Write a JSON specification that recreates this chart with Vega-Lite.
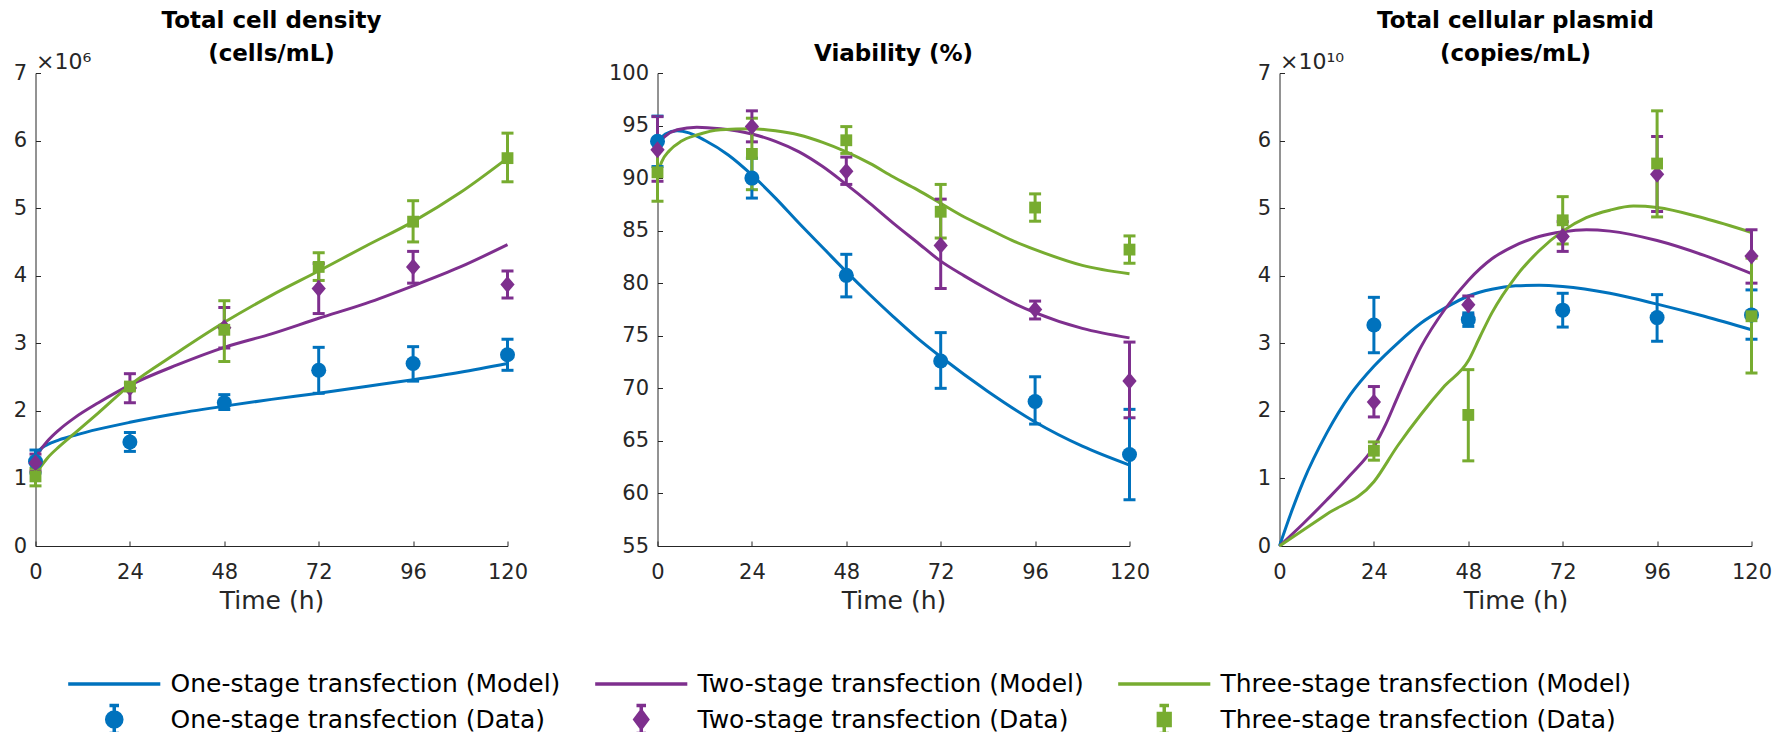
{
  "$schema": "https://vega.github.io/schema/vega-lite/v6.json",
  "autosize": {"type": "pad"},
  "padding": {"left": 12.5, "top": 10, "right": 0, "bottom": 0},
  "background": "white",
  "config": {
    "font": "DejaVu Sans",
    "view": {"stroke": null},
    "axis": {"grid": false, "domainColor": "#262626", "domainWidth": 1, "tickColor": "#262626", "tickWidth": 1, "tickSize": -5, "labelFont": "DejaVu Sans", "labelFontSize": 21, "labelColor": "#262626", "labelFlush": false, "labelOverlap": false, "labelBound": false, "titleFont": "DejaVu Sans", "titleFontSize": 25, "titleFontWeight": "normal", "titleColor": "#262626"},
    "axisX": {"labelPadding": 20, "titlePadding": 6},
    "axisY": {"labelPadding": 14},
    "title": {"font": "DejaVu Sans", "fontSize": 23, "fontWeight": "bold", "color": "#000000", "anchor": "middle", "frame": "group", "lineHeight": 33},
    "legend": {"labelFont": "DejaVu Sans", "labelFontSize": 25, "labelColor": "#000000", "labelOffset": 40.25, "labelLimit": 0, "symbolSize": 784, "symbolStrokeWidth": 3.5, "symbolOpacity": 1, "columnPadding": 26, "rowPadding": 1.5}
  },
  "datasets": {
    "model": [
      {"panel": "cell", "series": "One-stage transfection (Model)", "t": 0, "v": 1.33e6},
      {"panel": "cell", "series": "One-stage transfection (Model)", "t": 1, "v": 1.42e6},
      {"panel": "cell", "series": "One-stage transfection (Model)", "t": 3, "v": 1.50e6},
      {"panel": "cell", "series": "One-stage transfection (Model)", "t": 6, "v": 1.57e6},
      {"panel": "cell", "series": "One-stage transfection (Model)", "t": 10, "v": 1.64e6},
      {"panel": "cell", "series": "One-stage transfection (Model)", "t": 16, "v": 1.73e6},
      {"panel": "cell", "series": "One-stage transfection (Model)", "t": 24, "v": 1.83e6},
      {"panel": "cell", "series": "One-stage transfection (Model)", "t": 36, "v": 1.96e6},
      {"panel": "cell", "series": "One-stage transfection (Model)", "t": 48, "v": 2.07e6},
      {"panel": "cell", "series": "One-stage transfection (Model)", "t": 60, "v": 2.17e6},
      {"panel": "cell", "series": "One-stage transfection (Model)", "t": 72, "v": 2.26e6},
      {"panel": "cell", "series": "One-stage transfection (Model)", "t": 84, "v": 2.36e6},
      {"panel": "cell", "series": "One-stage transfection (Model)", "t": 96, "v": 2.46e6},
      {"panel": "cell", "series": "One-stage transfection (Model)", "t": 108, "v": 2.57e6},
      {"panel": "cell", "series": "One-stage transfection (Model)", "t": 120, "v": 2.70e6},
      {"panel": "cell", "series": "Two-stage transfection (Model)", "t": 0, "v": 1.29e6},
      {"panel": "cell", "series": "Two-stage transfection (Model)", "t": 1, "v": 1.40e6},
      {"panel": "cell", "series": "Two-stage transfection (Model)", "t": 3, "v": 1.55e6},
      {"panel": "cell", "series": "Two-stage transfection (Model)", "t": 6, "v": 1.72e6},
      {"panel": "cell", "series": "Two-stage transfection (Model)", "t": 10, "v": 1.90e6},
      {"panel": "cell", "series": "Two-stage transfection (Model)", "t": 16, "v": 2.12e6},
      {"panel": "cell", "series": "Two-stage transfection (Model)", "t": 24, "v": 2.38e6},
      {"panel": "cell", "series": "Two-stage transfection (Model)", "t": 36, "v": 2.68e6},
      {"panel": "cell", "series": "Two-stage transfection (Model)", "t": 48, "v": 2.94e6},
      {"panel": "cell", "series": "Two-stage transfection (Model)", "t": 60, "v": 3.14e6},
      {"panel": "cell", "series": "Two-stage transfection (Model)", "t": 72, "v": 3.37e6},
      {"panel": "cell", "series": "Two-stage transfection (Model)", "t": 84, "v": 3.59e6},
      {"panel": "cell", "series": "Two-stage transfection (Model)", "t": 96, "v": 3.85e6},
      {"panel": "cell", "series": "Two-stage transfection (Model)", "t": 108, "v": 4.13e6},
      {"panel": "cell", "series": "Two-stage transfection (Model)", "t": 120, "v": 4.46e6},
      {"panel": "cell", "series": "Three-stage transfection (Model)", "t": 0, "v": 1.08e6},
      {"panel": "cell", "series": "Three-stage transfection (Model)", "t": 1, "v": 1.15e6},
      {"panel": "cell", "series": "Three-stage transfection (Model)", "t": 3, "v": 1.30e6},
      {"panel": "cell", "series": "Three-stage transfection (Model)", "t": 6, "v": 1.47e6},
      {"panel": "cell", "series": "Three-stage transfection (Model)", "t": 10, "v": 1.67e6},
      {"panel": "cell", "series": "Three-stage transfection (Model)", "t": 16, "v": 1.97e6},
      {"panel": "cell", "series": "Three-stage transfection (Model)", "t": 24, "v": 2.38e6},
      {"panel": "cell", "series": "Three-stage transfection (Model)", "t": 36, "v": 2.86e6},
      {"panel": "cell", "series": "Three-stage transfection (Model)", "t": 48, "v": 3.31e6},
      {"panel": "cell", "series": "Three-stage transfection (Model)", "t": 60, "v": 3.71e6},
      {"panel": "cell", "series": "Three-stage transfection (Model)", "t": 72, "v": 4.07e6},
      {"panel": "cell", "series": "Three-stage transfection (Model)", "t": 84, "v": 4.44e6},
      {"panel": "cell", "series": "Three-stage transfection (Model)", "t": 96, "v": 4.80e6},
      {"panel": "cell", "series": "Three-stage transfection (Model)", "t": 108, "v": 5.23e6},
      {"panel": "cell", "series": "Three-stage transfection (Model)", "t": 120, "v": 5.74e6},

      {"panel": "via", "series": "One-stage transfection (Model)", "t": 0, "v": 93.4},
      {"panel": "via", "series": "One-stage transfection (Model)", "t": 2, "v": 94.2},
      {"panel": "via", "series": "One-stage transfection (Model)", "t": 5, "v": 94.5},
      {"panel": "via", "series": "One-stage transfection (Model)", "t": 8, "v": 94.3},
      {"panel": "via", "series": "One-stage transfection (Model)", "t": 12, "v": 93.6},
      {"panel": "via", "series": "One-stage transfection (Model)", "t": 18, "v": 92.2},
      {"panel": "via", "series": "One-stage transfection (Model)", "t": 24, "v": 90.3},
      {"panel": "via", "series": "One-stage transfection (Model)", "t": 30, "v": 88.1},
      {"panel": "via", "series": "One-stage transfection (Model)", "t": 36, "v": 85.7},
      {"panel": "via", "series": "One-stage transfection (Model)", "t": 42, "v": 83.4},
      {"panel": "via", "series": "One-stage transfection (Model)", "t": 48, "v": 81.1},
      {"panel": "via", "series": "One-stage transfection (Model)", "t": 54, "v": 78.9},
      {"panel": "via", "series": "One-stage transfection (Model)", "t": 60, "v": 76.8},
      {"panel": "via", "series": "One-stage transfection (Model)", "t": 66, "v": 74.8},
      {"panel": "via", "series": "One-stage transfection (Model)", "t": 72, "v": 73.0},
      {"panel": "via", "series": "One-stage transfection (Model)", "t": 84, "v": 69.7},
      {"panel": "via", "series": "One-stage transfection (Model)", "t": 96, "v": 66.8},
      {"panel": "via", "series": "One-stage transfection (Model)", "t": 108, "v": 64.5},
      {"panel": "via", "series": "One-stage transfection (Model)", "t": 120, "v": 62.7},
      {"panel": "via", "series": "Two-stage transfection (Model)", "t": 0, "v": 93.2},
      {"panel": "via", "series": "Two-stage transfection (Model)", "t": 2, "v": 94.0},
      {"panel": "via", "series": "Two-stage transfection (Model)", "t": 5, "v": 94.6},
      {"panel": "via", "series": "Two-stage transfection (Model)", "t": 10, "v": 94.85},
      {"panel": "via", "series": "Two-stage transfection (Model)", "t": 16, "v": 94.7},
      {"panel": "via", "series": "Two-stage transfection (Model)", "t": 24, "v": 94.2},
      {"panel": "via", "series": "Two-stage transfection (Model)", "t": 30, "v": 93.5},
      {"panel": "via", "series": "Two-stage transfection (Model)", "t": 36, "v": 92.5},
      {"panel": "via", "series": "Two-stage transfection (Model)", "t": 42, "v": 91.1},
      {"panel": "via", "series": "Two-stage transfection (Model)", "t": 48, "v": 89.4},
      {"panel": "via", "series": "Two-stage transfection (Model)", "t": 54, "v": 87.6},
      {"panel": "via", "series": "Two-stage transfection (Model)", "t": 60, "v": 85.7},
      {"panel": "via", "series": "Two-stage transfection (Model)", "t": 66, "v": 83.9},
      {"panel": "via", "series": "Two-stage transfection (Model)", "t": 72, "v": 82.1},
      {"panel": "via", "series": "Two-stage transfection (Model)", "t": 78, "v": 80.7},
      {"panel": "via", "series": "Two-stage transfection (Model)", "t": 84, "v": 79.4},
      {"panel": "via", "series": "Two-stage transfection (Model)", "t": 90, "v": 78.2},
      {"panel": "via", "series": "Two-stage transfection (Model)", "t": 96, "v": 77.2},
      {"panel": "via", "series": "Two-stage transfection (Model)", "t": 108, "v": 75.7},
      {"panel": "via", "series": "Two-stage transfection (Model)", "t": 120, "v": 74.8},
      {"panel": "via", "series": "Three-stage transfection (Model)", "t": 0, "v": 90.3},
      {"panel": "via", "series": "Three-stage transfection (Model)", "t": 1, "v": 91.5},
      {"panel": "via", "series": "Three-stage transfection (Model)", "t": 3, "v": 92.6},
      {"panel": "via", "series": "Three-stage transfection (Model)", "t": 6, "v": 93.5},
      {"panel": "via", "series": "Three-stage transfection (Model)", "t": 10, "v": 94.1},
      {"panel": "via", "series": "Three-stage transfection (Model)", "t": 16, "v": 94.6},
      {"panel": "via", "series": "Three-stage transfection (Model)", "t": 24, "v": 94.7},
      {"panel": "via", "series": "Three-stage transfection (Model)", "t": 30, "v": 94.5},
      {"panel": "via", "series": "Three-stage transfection (Model)", "t": 36, "v": 94.1},
      {"panel": "via", "series": "Three-stage transfection (Model)", "t": 42, "v": 93.4},
      {"panel": "via", "series": "Three-stage transfection (Model)", "t": 48, "v": 92.5},
      {"panel": "via", "series": "Three-stage transfection (Model)", "t": 54, "v": 91.4},
      {"panel": "via", "series": "Three-stage transfection (Model)", "t": 60, "v": 90.1},
      {"panel": "via", "series": "Three-stage transfection (Model)", "t": 66, "v": 88.9},
      {"panel": "via", "series": "Three-stage transfection (Model)", "t": 72, "v": 87.6},
      {"panel": "via", "series": "Three-stage transfection (Model)", "t": 78, "v": 86.3},
      {"panel": "via", "series": "Three-stage transfection (Model)", "t": 84, "v": 85.2},
      {"panel": "via", "series": "Three-stage transfection (Model)", "t": 90, "v": 84.1},
      {"panel": "via", "series": "Three-stage transfection (Model)", "t": 96, "v": 83.2},
      {"panel": "via", "series": "Three-stage transfection (Model)", "t": 108, "v": 81.7},
      {"panel": "via", "series": "Three-stage transfection (Model)", "t": 120, "v": 80.9},

      {"panel": "pla", "series": "One-stage transfection (Model)", "t": 0, "v": 0},
      {"panel": "pla", "series": "One-stage transfection (Model)", "t": 3, "v": 0.50e10},
      {"panel": "pla", "series": "One-stage transfection (Model)", "t": 6, "v": 0.95e10},
      {"panel": "pla", "series": "One-stage transfection (Model)", "t": 12, "v": 1.67e10},
      {"panel": "pla", "series": "One-stage transfection (Model)", "t": 18, "v": 2.24e10},
      {"panel": "pla", "series": "One-stage transfection (Model)", "t": 24, "v": 2.66e10},
      {"panel": "pla", "series": "One-stage transfection (Model)", "t": 30, "v": 3.00e10},
      {"panel": "pla", "series": "One-stage transfection (Model)", "t": 36, "v": 3.30e10},
      {"panel": "pla", "series": "One-stage transfection (Model)", "t": 42, "v": 3.52e10},
      {"panel": "pla", "series": "One-stage transfection (Model)", "t": 48, "v": 3.70e10},
      {"panel": "pla", "series": "One-stage transfection (Model)", "t": 54, "v": 3.80e10},
      {"panel": "pla", "series": "One-stage transfection (Model)", "t": 60, "v": 3.85e10},
      {"panel": "pla", "series": "One-stage transfection (Model)", "t": 66, "v": 3.86e10},
      {"panel": "pla", "series": "One-stage transfection (Model)", "t": 72, "v": 3.84e10},
      {"panel": "pla", "series": "One-stage transfection (Model)", "t": 84, "v": 3.74e10},
      {"panel": "pla", "series": "One-stage transfection (Model)", "t": 96, "v": 3.58e10},
      {"panel": "pla", "series": "One-stage transfection (Model)", "t": 108, "v": 3.40e10},
      {"panel": "pla", "series": "One-stage transfection (Model)", "t": 120, "v": 3.20e10},
      {"panel": "pla", "series": "Two-stage transfection (Model)", "t": 0, "v": 0},
      {"panel": "pla", "series": "Two-stage transfection (Model)", "t": 6, "v": 0.33e10},
      {"panel": "pla", "series": "Two-stage transfection (Model)", "t": 12, "v": 0.68e10},
      {"panel": "pla", "series": "Two-stage transfection (Model)", "t": 18, "v": 1.05e10},
      {"panel": "pla", "series": "Two-stage transfection (Model)", "t": 24, "v": 1.47e10},
      {"panel": "pla", "series": "Two-stage transfection (Model)", "t": 27, "v": 1.80e10},
      {"panel": "pla", "series": "Two-stage transfection (Model)", "t": 30, "v": 2.20e10},
      {"panel": "pla", "series": "Two-stage transfection (Model)", "t": 36, "v": 2.95e10},
      {"panel": "pla", "series": "Two-stage transfection (Model)", "t": 42, "v": 3.50e10},
      {"panel": "pla", "series": "Two-stage transfection (Model)", "t": 48, "v": 3.93e10},
      {"panel": "pla", "series": "Two-stage transfection (Model)", "t": 54, "v": 4.25e10},
      {"panel": "pla", "series": "Two-stage transfection (Model)", "t": 60, "v": 4.45e10},
      {"panel": "pla", "series": "Two-stage transfection (Model)", "t": 66, "v": 4.58e10},
      {"panel": "pla", "series": "Two-stage transfection (Model)", "t": 72, "v": 4.65e10},
      {"panel": "pla", "series": "Two-stage transfection (Model)", "t": 78, "v": 4.68e10},
      {"panel": "pla", "series": "Two-stage transfection (Model)", "t": 84, "v": 4.66e10},
      {"panel": "pla", "series": "Two-stage transfection (Model)", "t": 96, "v": 4.52e10},
      {"panel": "pla", "series": "Two-stage transfection (Model)", "t": 108, "v": 4.30e10},
      {"panel": "pla", "series": "Two-stage transfection (Model)", "t": 120, "v": 4.03e10},
      {"panel": "pla", "series": "Three-stage transfection (Model)", "t": 0, "v": 0},
      {"panel": "pla", "series": "Three-stage transfection (Model)", "t": 12, "v": 0.47e10},
      {"panel": "pla", "series": "Three-stage transfection (Model)", "t": 24, "v": 0.95e10},
      {"panel": "pla", "series": "Three-stage transfection (Model)", "t": 30, "v": 1.48e10},
      {"panel": "pla", "series": "Three-stage transfection (Model)", "t": 36, "v": 1.95e10},
      {"panel": "pla", "series": "Three-stage transfection (Model)", "t": 42, "v": 2.37e10},
      {"panel": "pla", "series": "Three-stage transfection (Model)", "t": 48, "v": 2.74e10},
      {"panel": "pla", "series": "Three-stage transfection (Model)", "t": 51, "v": 3.10e10},
      {"panel": "pla", "series": "Three-stage transfection (Model)", "t": 54, "v": 3.45e10},
      {"panel": "pla", "series": "Three-stage transfection (Model)", "t": 60, "v": 3.98e10},
      {"panel": "pla", "series": "Three-stage transfection (Model)", "t": 66, "v": 4.37e10},
      {"panel": "pla", "series": "Three-stage transfection (Model)", "t": 72, "v": 4.66e10},
      {"panel": "pla", "series": "Three-stage transfection (Model)", "t": 78, "v": 4.86e10},
      {"panel": "pla", "series": "Three-stage transfection (Model)", "t": 84, "v": 4.97e10},
      {"panel": "pla", "series": "Three-stage transfection (Model)", "t": 90, "v": 5.03e10},
      {"panel": "pla", "series": "Three-stage transfection (Model)", "t": 96, "v": 5.01e10},
      {"panel": "pla", "series": "Three-stage transfection (Model)", "t": 108, "v": 4.85e10},
      {"panel": "pla", "series": "Three-stage transfection (Model)", "t": 120, "v": 4.64e10}
    ],
    "obs": [
      {"panel": "cell", "series": "One-stage transfection (Data)", "t": 0, "v": 1.25e6, "lo": 1.08e6, "hi": 1.42e6},
      {"panel": "cell", "series": "One-stage transfection (Data)", "t": 24, "v": 1.54e6, "lo": 1.40e6, "hi": 1.68e6},
      {"panel": "cell", "series": "One-stage transfection (Data)", "t": 48, "v": 2.12e6, "lo": 2.02e6, "hi": 2.24e6},
      {"panel": "cell", "series": "One-stage transfection (Data)", "t": 72, "v": 2.60e6, "lo": 2.26e6, "hi": 2.94e6},
      {"panel": "cell", "series": "One-stage transfection (Data)", "t": 96, "v": 2.70e6, "lo": 2.44e6, "hi": 2.95e6},
      {"panel": "cell", "series": "One-stage transfection (Data)", "t": 120, "v": 2.83e6, "lo": 2.60e6, "hi": 3.06e6},
      {"panel": "cell", "series": "Two-stage transfection (Data)", "t": 0, "v": 1.23e6, "lo": 1.11e6, "hi": 1.36e6},
      {"panel": "cell", "series": "Two-stage transfection (Data)", "t": 24, "v": 2.34e6, "lo": 2.12e6, "hi": 2.55e6},
      {"panel": "cell", "series": "Two-stage transfection (Data)", "t": 48, "v": 3.23e6, "lo": 2.93e6, "hi": 3.53e6},
      {"panel": "cell", "series": "Two-stage transfection (Data)", "t": 72, "v": 3.81e6, "lo": 3.44e6, "hi": 4.18e6},
      {"panel": "cell", "series": "Two-stage transfection (Data)", "t": 96, "v": 4.13e6, "lo": 3.89e6, "hi": 4.36e6},
      {"panel": "cell", "series": "Two-stage transfection (Data)", "t": 120, "v": 3.87e6, "lo": 3.67e6, "hi": 4.07e6},
      {"panel": "cell", "series": "Three-stage transfection (Data)", "t": 0, "v": 1.03e6, "lo": 0.89e6, "hi": 1.15e6},
      {"panel": "cell", "series": "Three-stage transfection (Data)", "t": 24, "v": 2.36e6, "lo": 2.31e6, "hi": 2.41e6},
      {"panel": "cell", "series": "Three-stage transfection (Data)", "t": 48, "v": 3.20e6, "lo": 2.73e6, "hi": 3.63e6},
      {"panel": "cell", "series": "Three-stage transfection (Data)", "t": 72, "v": 4.13e6, "lo": 3.93e6, "hi": 4.34e6},
      {"panel": "cell", "series": "Three-stage transfection (Data)", "t": 96, "v": 4.80e6, "lo": 4.50e6, "hi": 5.11e6},
      {"panel": "cell", "series": "Three-stage transfection (Data)", "t": 120, "v": 5.74e6, "lo": 5.39e6, "hi": 6.11e6},

      {"panel": "via", "series": "One-stage transfection (Data)", "t": 0, "v": 93.5, "lo": 91.1, "hi": 95.9},
      {"panel": "via", "series": "One-stage transfection (Data)", "t": 24, "v": 90.0, "lo": 88.1, "hi": 91.9},
      {"panel": "via", "series": "One-stage transfection (Data)", "t": 48, "v": 80.75, "lo": 78.7, "hi": 82.75},
      {"panel": "via", "series": "One-stage transfection (Data)", "t": 72, "v": 72.6, "lo": 70.0, "hi": 75.3},
      {"panel": "via", "series": "One-stage transfection (Data)", "t": 96, "v": 68.75, "lo": 66.6, "hi": 71.1},
      {"panel": "via", "series": "One-stage transfection (Data)", "t": 120, "v": 63.7, "lo": 59.4, "hi": 68.0},
      {"panel": "via", "series": "Two-stage transfection (Data)", "t": 0, "v": 92.7, "lo": 89.7, "hi": 95.85},
      {"panel": "via", "series": "Two-stage transfection (Data)", "t": 24, "v": 94.9, "lo": 93.45, "hi": 96.4},
      {"panel": "via", "series": "Two-stage transfection (Data)", "t": 48, "v": 90.65, "lo": 89.4, "hi": 92.0},
      {"panel": "via", "series": "Two-stage transfection (Data)", "t": 72, "v": 83.6, "lo": 79.5, "hi": 88.0},
      {"panel": "via", "series": "Two-stage transfection (Data)", "t": 96, "v": 77.5, "lo": 76.6, "hi": 78.3},
      {"panel": "via", "series": "Two-stage transfection (Data)", "t": 120, "v": 70.7, "lo": 67.2, "hi": 74.4},
      {"panel": "via", "series": "Three-stage transfection (Data)", "t": 0, "v": 90.55, "lo": 87.8, "hi": 93.3},
      {"panel": "via", "series": "Three-stage transfection (Data)", "t": 24, "v": 92.3, "lo": 88.9, "hi": 95.7},
      {"panel": "via", "series": "Three-stage transfection (Data)", "t": 48, "v": 93.6, "lo": 92.35, "hi": 94.9},
      {"panel": "via", "series": "Three-stage transfection (Data)", "t": 72, "v": 86.8, "lo": 84.3, "hi": 89.4},
      {"panel": "via", "series": "Three-stage transfection (Data)", "t": 96, "v": 87.2, "lo": 85.9, "hi": 88.5},
      {"panel": "via", "series": "Three-stage transfection (Data)", "t": 120, "v": 83.2, "lo": 81.9, "hi": 84.5},

      {"panel": "pla", "series": "One-stage transfection (Data)", "t": 24, "v": 3.27e10, "lo": 2.86e10, "hi": 3.68e10},
      {"panel": "pla", "series": "One-stage transfection (Data)", "t": 48, "v": 3.35e10, "lo": 3.25e10, "hi": 3.45e10},
      {"panel": "pla", "series": "One-stage transfection (Data)", "t": 72, "v": 3.49e10, "lo": 3.24e10, "hi": 3.74e10},
      {"panel": "pla", "series": "One-stage transfection (Data)", "t": 96, "v": 3.38e10, "lo": 3.03e10, "hi": 3.72e10},
      {"panel": "pla", "series": "One-stage transfection (Data)", "t": 120, "v": 3.42e10, "lo": 3.06e10, "hi": 3.79e10},
      {"panel": "pla", "series": "Two-stage transfection (Data)", "t": 24, "v": 2.13e10, "lo": 1.91e10, "hi": 2.36e10},
      {"panel": "pla", "series": "Two-stage transfection (Data)", "t": 48, "v": 3.57e10, "lo": 3.42e10, "hi": 3.70e10},
      {"panel": "pla", "series": "Two-stage transfection (Data)", "t": 72, "v": 4.58e10, "lo": 4.36e10, "hi": 4.80e10},
      {"panel": "pla", "series": "Two-stage transfection (Data)", "t": 96, "v": 5.50e10, "lo": 4.95e10, "hi": 6.06e10},
      {"panel": "pla", "series": "Two-stage transfection (Data)", "t": 120, "v": 4.29e10, "lo": 3.89e10, "hi": 4.68e10},
      {"panel": "pla", "series": "Three-stage transfection (Data)", "t": 24, "v": 1.41e10, "lo": 1.27e10, "hi": 1.54e10},
      {"panel": "pla", "series": "Three-stage transfection (Data)", "t": 48, "v": 1.94e10, "lo": 1.26e10, "hi": 2.61e10},
      {"panel": "pla", "series": "Three-stage transfection (Data)", "t": 72, "v": 4.82e10, "lo": 4.47e10, "hi": 5.17e10},
      {"panel": "pla", "series": "Three-stage transfection (Data)", "t": 96, "v": 5.66e10, "lo": 4.87e10, "hi": 6.44e10},
      {"panel": "pla", "series": "Three-stage transfection (Data)", "t": 120, "v": 3.40e10, "lo": 2.56e10, "hi": 4.26e10}
    ]
  },
  "spacing": 150,
  "bounds": "flush",
  "hconcat": [
    {
      "width": 472, "height": 473,
      "title": {"text": ["Total cell density", "(cells/mL)"], "offset": -16},
      "encoding": {
        "x": {"field": "t", "type": "quantitative", "scale": {"domain": [0, 120], "nice": false}, "axis": {"values": [0, 24, 48, 72, 96, 120], "title": "Time (h)"}},
        "y": {"field": "v", "type": "quantitative", "scale": {"domain": [0, 7e6], "nice": false}, "axis": {"values": [0, 1e6, 2e6, 3e6, 4e6, 5e6, 6e6, 7e6], "labelExpr": "format(datum.value/1e6, 'd')", "title": "×10⁶", "titleAngle": 0, "titleAlign": "left", "titleBaseline": "alphabetic", "titleX": 0, "titleY": -5, "titleFontSize": 22}}
      },
      "layer": [
        {"data": {"name": "model"}, "transform": [{"filter": "datum.panel === 'cell'"}], "mark": {"type": "line", "strokeWidth": 3, "interpolate": "monotone"},
         "encoding": {"color": {"field": "series", "type": "nominal", "scale": {"domain": ["One-stage transfection (Model)", "Two-stage transfection (Model)", "Three-stage transfection (Model)", "One-stage transfection (Data)", "Two-stage transfection (Data)", "Three-stage transfection (Data)"], "range": ["#0072BD", "#7E2F8E", "#77AC30", "#0072BD", "#7E2F8E", "#77AC30"]}}}},
        {"data": {"name": "obs"}, "transform": [{"filter": "datum.panel === 'cell'"}], "mark": {"type": "errorbar", "ticks": {"opacity": 1}, "rule": {"opacity": 1}, "size": 12, "thickness": 3},
         "encoding": {
           "y": {"field": "lo", "type": "quantitative", "scale": {"domain": [0, 7e6], "nice": false}, "axis": {"values": [0, 1e6, 2e6, 3e6, 4e6, 5e6, 6e6, 7e6], "labelExpr": "format(datum.value/1e6, 'd')", "title": "×10⁶", "titleAngle": 0, "titleAlign": "left", "titleBaseline": "alphabetic", "titleX": 0, "titleY": -5, "titleFontSize": 22}},
           "y2": {"field": "hi"},
           "color": {"field": "series", "type": "nominal"}}},
        {"data": {"name": "obs"}, "transform": [{"filter": "datum.panel === 'cell' && datum.series === 'One-stage transfection (Data)'"}], "mark": {"type": "point", "shape": "circle", "size": 225, "filled": true, "opacity": 1}, "encoding": {"color": {"field": "series", "type": "nominal"}}},
        {"data": {"name": "obs"}, "transform": [{"filter": "datum.panel === 'cell' && datum.series === 'Two-stage transfection (Data)'"}], "mark": {"type": "point", "shape": "M0,-1.12L0.95,0L0,1.12L-0.95,0Z", "size": 225, "filled": true, "opacity": 1}, "encoding": {"color": {"field": "series", "type": "nominal"}}},
        {"data": {"name": "obs"}, "transform": [{"filter": "datum.panel === 'cell' && datum.series === 'Three-stage transfection (Data)'"}], "mark": {"type": "point", "shape": "square", "size": 140, "filled": true, "opacity": 1}, "encoding": {"color": {"field": "series", "type": "nominal"}}},
        {"data": {"name": "obs"}, "transform": [{"filter": "datum.panel === 'legend'"}], "mark": {"type": "point", "filled": true, "opacity": 1},
         "encoding": {
           "color": {"field": "series", "type": "nominal", "legend": {"title": null, "orient": "none", "legendX": 62.75, "legendY": 595, "columns": 3, "direction": "horizontal", "symbolOpacity": 1, "encode": {"symbols": {"update": {"shape": {"scale": "shape", "field": "value"}, "stroke": {"scale": "color", "field": "value"}, "fill": {"scale": "color", "field": "value"}, "strokeWidth": {"value": 3.5}, "opacity": {"value": 1}, "fillOpacity": {"value": 1}, "strokeOpacity": {"value": 1}, "size": {"value": 784}}}}}},
           "shape": {"field": "series", "type": "nominal", "legend": {"title": null, "orient": "none", "legendX": 62.75, "legendY": 595, "columns": 3, "direction": "horizontal", "symbolOpacity": 1}, "scale": {"domain": ["One-stage transfection (Model)", "Two-stage transfection (Model)", "Three-stage transfection (Model)", "One-stage transfection (Data)", "Two-stage transfection (Data)", "Three-stage transfection (Data)"], "range": ["M-3.29,0H3.29", "M-3.29,0H3.29", "M-3.29,0H3.29", "M-0.54,0A0.54,0.54,0,1,1,0.54,0A0.54,0.54,0,1,1,-0.54,0Z M0,-1V1 M-0.34,-1H0.34 M-0.34,1H0.34", "M0,-0.62L0.46,0L0,0.62L-0.46,0Z M0,-1V1 M-0.34,-1H0.34 M-0.34,1H0.34", "M-0.42,-0.42H0.42V0.42H-0.42Z M0,-1V1 M-0.34,-1H0.34 M-0.34,1H0.34"]}}}}
      ]
    },
    {
      "width": 472, "height": 473,
      "title": {"text": "Viability (%)", "offset": -4},
      "encoding": {
        "x": {"field": "t", "type": "quantitative", "scale": {"domain": [0, 120], "nice": false}, "axis": {"values": [0, 24, 48, 72, 96, 120], "title": "Time (h)"}},
        "y": {"field": "v", "type": "quantitative", "scale": {"domain": [55, 100], "nice": false, "zero": false}, "axis": {"values": [55, 60, 65, 70, 75, 80, 85, 90, 95, 100], "title": null}}
      },
      "layer": [
        {"data": {"name": "model"}, "transform": [{"filter": "datum.panel === 'via'"}], "mark": {"type": "line", "strokeWidth": 3, "interpolate": "monotone"}, "encoding": {"color": {"field": "series", "type": "nominal"}}},
        {"data": {"name": "obs"}, "transform": [{"filter": "datum.panel === 'via'"}], "mark": {"type": "errorbar", "ticks": {"opacity": 1}, "rule": {"opacity": 1}, "size": 12, "thickness": 3},
         "encoding": {
           "y": {"field": "lo", "type": "quantitative", "scale": {"domain": [55, 100], "nice": false, "zero": false}, "axis": {"values": [55, 60, 65, 70, 75, 80, 85, 90, 95, 100], "title": null}},
           "y2": {"field": "hi"},
           "color": {"field": "series", "type": "nominal"}}},
        {"data": {"name": "obs"}, "transform": [{"filter": "datum.panel === 'via' && datum.series === 'One-stage transfection (Data)'"}], "mark": {"type": "point", "shape": "circle", "size": 225, "filled": true, "opacity": 1}, "encoding": {"color": {"field": "series", "type": "nominal"}}},
        {"data": {"name": "obs"}, "transform": [{"filter": "datum.panel === 'via' && datum.series === 'Two-stage transfection (Data)'"}], "mark": {"type": "point", "shape": "M0,-1.12L0.95,0L0,1.12L-0.95,0Z", "size": 225, "filled": true, "opacity": 1}, "encoding": {"color": {"field": "series", "type": "nominal"}}},
        {"data": {"name": "obs"}, "transform": [{"filter": "datum.panel === 'via' && datum.series === 'Three-stage transfection (Data)'"}], "mark": {"type": "point", "shape": "square", "size": 140, "filled": true, "opacity": 1}, "encoding": {"color": {"field": "series", "type": "nominal"}}}
      ]
    },
    {
      "width": 472, "height": 473,
      "title": {"text": ["Total cellular plasmid", "(copies/mL)"], "offset": -16},
      "encoding": {
        "x": {"field": "t", "type": "quantitative", "scale": {"domain": [0, 120], "nice": false}, "axis": {"values": [0, 24, 48, 72, 96, 120], "title": "Time (h)"}},
        "y": {"field": "v", "type": "quantitative", "scale": {"domain": [0, 7e10], "nice": false}, "axis": {"values": [0, 1e10, 2e10, 3e10, 4e10, 5e10, 6e10, 7e10], "labelExpr": "format(datum.value/1e10, 'd')", "title": "×10¹⁰", "titleAngle": 0, "titleAlign": "left", "titleBaseline": "alphabetic", "titleX": 0, "titleY": -5, "titleFontSize": 22}}
      },
      "layer": [
        {"data": {"name": "model"}, "transform": [{"filter": "datum.panel === 'pla'"}], "mark": {"type": "line", "strokeWidth": 3, "interpolate": "monotone"}, "encoding": {"color": {"field": "series", "type": "nominal"}}},
        {"data": {"name": "obs"}, "transform": [{"filter": "datum.panel === 'pla'"}], "mark": {"type": "errorbar", "ticks": {"opacity": 1}, "rule": {"opacity": 1}, "size": 12, "thickness": 3},
         "encoding": {
           "y": {"field": "lo", "type": "quantitative", "scale": {"domain": [0, 7e10], "nice": false}, "axis": {"values": [0, 1e10, 2e10, 3e10, 4e10, 5e10, 6e10, 7e10], "labelExpr": "format(datum.value/1e10, 'd')", "title": "×10¹⁰", "titleAngle": 0, "titleAlign": "left", "titleBaseline": "alphabetic", "titleX": 0, "titleY": -5, "titleFontSize": 22}},
           "y2": {"field": "hi"},
           "color": {"field": "series", "type": "nominal"}}},
        {"data": {"name": "obs"}, "transform": [{"filter": "datum.panel === 'pla' && datum.series === 'One-stage transfection (Data)'"}], "mark": {"type": "point", "shape": "circle", "size": 225, "filled": true, "opacity": 1}, "encoding": {"color": {"field": "series", "type": "nominal"}}},
        {"data": {"name": "obs"}, "transform": [{"filter": "datum.panel === 'pla' && datum.series === 'Two-stage transfection (Data)'"}], "mark": {"type": "point", "shape": "M0,-1.12L0.95,0L0,1.12L-0.95,0Z", "size": 225, "filled": true, "opacity": 1}, "encoding": {"color": {"field": "series", "type": "nominal"}}},
        {"data": {"name": "obs"}, "transform": [{"filter": "datum.panel === 'pla' && datum.series === 'Three-stage transfection (Data)'"}], "mark": {"type": "point", "shape": "square", "size": 140, "filled": true, "opacity": 1}, "encoding": {"color": {"field": "series", "type": "nominal"}}}
      ]
    }
  ]
}
